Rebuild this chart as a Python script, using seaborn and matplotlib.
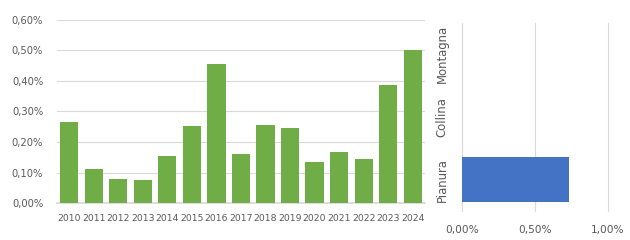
import matplotlib
matplotlib.use("Agg")
import matplotlib.pyplot as plt
import seaborn as sns
import pandas as pd
from matplotlib.ticker import FuncFormatter

years = ["2010", "2011", "2012", "2013", "2014", "2015", "2016", "2017",
         "2018", "2019", "2020", "2021", "2022", "2023", "2024"]
values = [0.266, 0.111, 0.079, 0.075, 0.155, 0.252, 0.456, 0.161,
          0.256, 0.246, 0.134, 0.167, 0.144, 0.387, 0.502]

zones = ["Montagna", "Collina", "Pianura"]
zone_values = [0.0, 0.0, 0.733]

sns.set_theme(style="white")
plt.rcParams['font.family'] = ['DejaVu Sans']

text_col = "#595959"
grid_col = "#D9D9D9"

fig = plt.figure(figsize=(6.3, 2.4), dpi=100)

def pct(v, pos):
    return ("%.2f%%" % v).replace(".", ",")

# Left chart
ax1 = fig.add_axes([0.0905, 0.154, 0.584, 0.763])
df1 = pd.DataFrame({"year": years, "value": values})
sns.barplot(data=df1, x="year", y="value", color="#70AD47", saturation=1,
            width=0.74, ax=ax1, zorder=3, linewidth=0)
ax1.set_ylim(0, 0.6)
ax1.set_xlim(-0.5, 14.5)
ax1.set_yticks([0, 0.1, 0.2, 0.3, 0.4, 0.5, 0.6])
ax1.yaxis.set_major_formatter(FuncFormatter(pct))
ax1.grid(axis="y", color=grid_col, linewidth=0.8, zorder=0)
ax1.set_axisbelow(True)
for s in ["top", "right", "left"]:
    ax1.spines[s].set_visible(False)
ax1.spines["bottom"].set_color(grid_col)
ax1.set_xlabel("")
ax1.set_ylabel("")
ax1.tick_params(axis="both", length=0, labelcolor=text_col)
ax1.tick_params(axis="x", labelsize=6.7, pad=8)
ax1.tick_params(axis="y", labelsize=7.2, pad=10)

# Right chart
ax2 = fig.add_axes([0.733, 0.121, 0.232, 0.783])
df2 = pd.DataFrame({"zone": zones, "value": zone_values})
sns.barplot(data=df2, y="zone", x="value", color="#4472C4", saturation=1,
            width=0.71, ax=ax2, orient="h", zorder=3, linewidth=0)
ax2.set_xlim(0, 1.0)
ax2.set_ylim(2.5, -0.5)
ax2.set_xticks([0, 0.5, 1.0])
ax2.xaxis.set_major_formatter(FuncFormatter(pct))
ax2.grid(axis="x", color=grid_col, linewidth=0.8, zorder=0)
for gl in ax2.get_xgridlines():
    gl.set_clip_on(False)
ax2.set_axisbelow(True)
for s in ["top", "right", "left", "bottom"]:
    ax2.spines[s].set_visible(False)
ax2.set_xlabel("")
ax2.set_ylabel("")
ax2.tick_params(axis="both", length=0, labelcolor=text_col)
ax2.tick_params(axis="x", pad=10, labelsize=7.6)
ax2.tick_params(axis="y", pad=14, labelsize=8.4)
for lbl in ax2.get_yticklabels():
    lbl.set_rotation(90)
    lbl.set_va("center")
    lbl.set_ha("center")

fig.savefig("out.png", dpi=100, facecolor="white")
